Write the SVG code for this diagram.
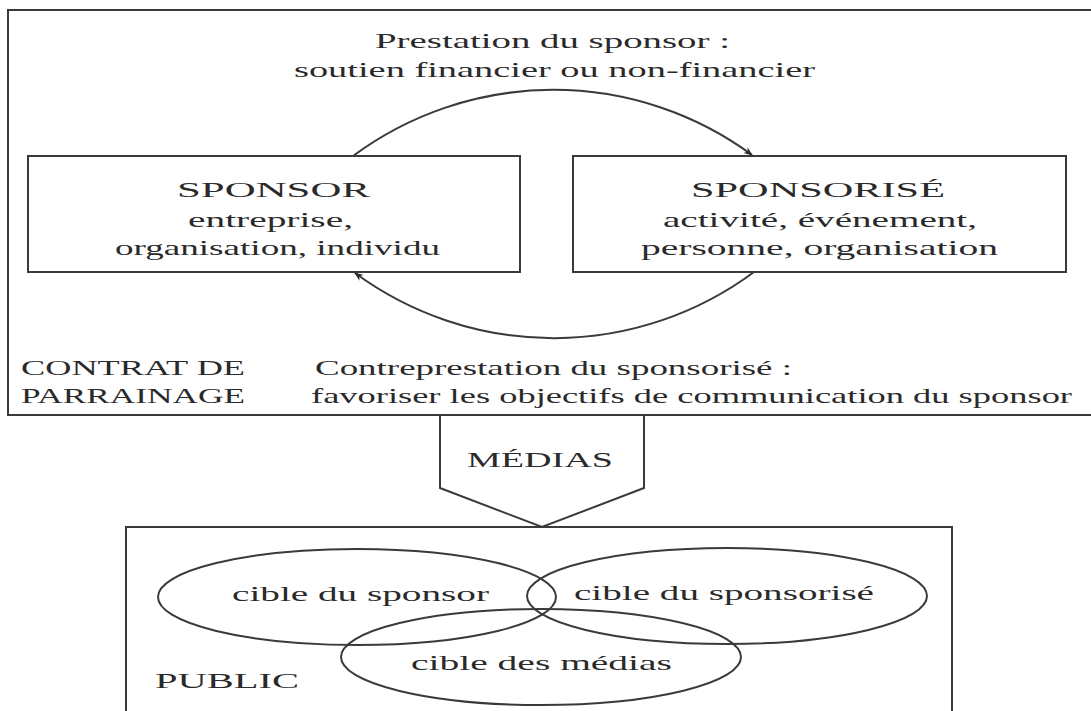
<svg xmlns="http://www.w3.org/2000/svg" width="1091" height="711" viewBox="0 0 1091 711">
<style>
.ln{fill:none;stroke:#3a3a3a;stroke-width:2}
.bx{fill:#ffffff;stroke:#3a3a3a;stroke-width:2}
.t{font-family:"Liberation Serif","Times New Roman",serif;font-size:21px;fill:#2a2a2a}
</style>
<defs>
<marker id="ah" viewBox="0 0 10 10" refX="9" refY="5" markerWidth="9" markerHeight="9" markerUnits="userSpaceOnUse" orient="auto">
<path d="M0,1 L10,5 L0,9 L3,5 Z" fill="#2a2a2a"/>
</marker>
</defs>
<rect width="1091" height="711" fill="#ffffff"/>
<g id="contrat">
<rect class="bx" x="8" y="10" width="1100" height="405"/>
<text class="t" x="21" y="375" textLength="224" lengthAdjust="spacingAndGlyphs">CONTRAT DE</text>
<text class="t" x="21" y="403" textLength="224" lengthAdjust="spacingAndGlyphs">PARRAINAGE</text>
</g>
<g id="prestation">
<text class="t" x="375" y="48" font-size="22" textLength="355" lengthAdjust="spacingAndGlyphs">Prestation du sponsor :</text>
<text class="t" x="294" y="77" font-size="22" textLength="521" lengthAdjust="spacingAndGlyphs">soutien financier ou non-financier</text>
</g>
<g id="contreprestation">
<text class="t" x="315" y="375" textLength="477" lengthAdjust="spacingAndGlyphs">Contreprestation du sponsorisé :</text>
<text class="t" x="311" y="403" textLength="761" lengthAdjust="spacingAndGlyphs">favoriser les objectifs de communication du sponsor</text>
</g>
<g id="sponsor">
<rect class="bx" x="28" y="156" width="492" height="116"/>
<text class="t" x="177" y="197" textLength="193" lengthAdjust="spacingAndGlyphs">SPONSOR</text>
<text class="t" x="188" y="227" textLength="165" lengthAdjust="spacingAndGlyphs">entreprise,</text>
<text class="t" x="115" y="255" textLength="325" lengthAdjust="spacingAndGlyphs">organisation, individu</text>
</g>
<g id="sponsorise">
<rect class="bx" x="573" y="156" width="493" height="116"/>
<text class="t" x="691" y="197" textLength="254" lengthAdjust="spacingAndGlyphs">SPONSORISÉ</text>
<text class="t" x="663" y="227" textLength="314" lengthAdjust="spacingAndGlyphs">activité, événement,</text>
<text class="t" x="641" y="255" textLength="357" lengthAdjust="spacingAndGlyphs">personne, organisation</text>
</g>
<g id="connectors">
<path class="ln" d="M353,156 A336,336 0 0 1 752,155" marker-end="url(#ah)"/>
<path class="ln" d="M754,272 A336,336 0 0 1 355,273" marker-end="url(#ah)"/>
</g>
<g id="medias">
<path class="ln" d="M440,415 L440,488 L542,527 L644,488 L644,415"/>
<text class="t" x="467" y="467" textLength="146" lengthAdjust="spacingAndGlyphs">MÉDIAS</text>
</g>
<g id="public">
<path class="ln" d="M126,720 L126,527 L952,527 L952,720"/>
<text class="t" x="155" y="688" textLength="144" lengthAdjust="spacingAndGlyphs">PUBLIC</text>
</g>
<g id="cible-sponsor">
<ellipse class="ln" cx="357" cy="597" rx="199" ry="48"/>
<text class="t" x="232" y="601" textLength="257" lengthAdjust="spacingAndGlyphs">cible du sponsor</text>
</g>
<g id="cible-sponsorise">
<ellipse class="ln" cx="727" cy="596" rx="200" ry="48"/>
<text class="t" x="574" y="600" textLength="300" lengthAdjust="spacingAndGlyphs">cible du sponsorisé</text>
</g>
<g id="cible-medias">
<ellipse class="ln" cx="541" cy="657" rx="200" ry="48"/>
<text class="t" x="411" y="670" textLength="261" lengthAdjust="spacingAndGlyphs">cible des médias</text>
</g>
</svg>
